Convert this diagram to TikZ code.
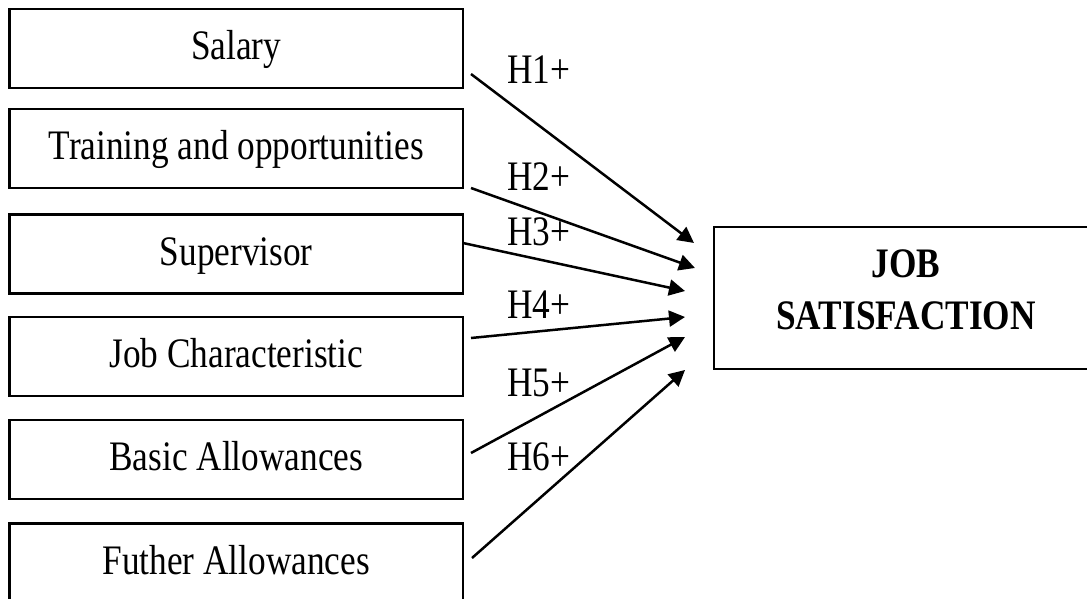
\documentclass[tikz,border=0pt]{standalone}
\usepackage{fontspec}
\setmainfont{Liberation Serif}[FakeStretch=0.84]
\usetikzlibrary{arrows.meta}
\newcommand\diagfont{\fontsize{42pt}{52pt}\selectfont}
\begin{document}
\begin{tikzpicture}[x=1pt,y=-1pt,
  font=\diagfont,
  factor/.style={draw, line width=2.8pt, outer sep=0pt, inner sep=0pt,
    minimum width=453.5pt, minimum height=79pt,
    text height=30pt, text depth=8pt, font=\diagfont},
  outcome/.style={draw, line width=2.8pt, outer sep=0pt, inner sep=0pt,
    minimum width=384pt, minimum height=142pt, align=center,
    text depth=16pt, font=\diagfont\bfseries},
  link/.style={line width=2.5pt, -{Triangle[length=16pt,width=16pt]}},
  hyp/.style={anchor=base west, inner sep=0pt, font=\diagfont}]
\useasboundingbox (0,0) rectangle (1087,598);
\clip (0,0) rectangle (1087,598);
\fill[white] (0,0) rectangle (1087,598);

% independent variables
\node[factor] (s1) at (236.25,48.5)  {Salary};
\node[factor] (s2) at (236.25,148.5) {Training and opportunities};
\node[factor] (s3) at (236.25,254)   {Supervisor};
\node[factor] (s4) at (236.25,356.5) {Job Characteristic};
\node[factor] (s5) at (236.25,459.5) {Basic Allowances};
\node[factor] (s6) at (236.25,563)   {Futher Allowances};

% dependent variable
\node[outcome] (js) at (906,298) {JOB\\SATISFACTION};

% hypothesised paths
\draw[link] ([shift={(8,25.5)}]s1.east)  -- ([shift={(-20,-55)}]js.west);
\draw[link] ([shift={(8,39.5)}]s2.east)  -- ([shift={(-19,-30)}]js.west);
\draw[link] ([shift={(0,-11)}]s3.east)   -- ([shift={(-29,-7)}]js.west);
\draw[link] ([shift={(8,-18.5)}]s4.east) -- ([shift={(-29,19)}]js.west);
\draw[link] ([shift={(8,-6.5)}]s5.east)  -- ([shift={(-29,39)}]js.west);
\draw[link] ([shift={(9,-5)}]s6.east)    -- ([shift={(-29,72)}]js.west);

% hypothesis labels
\node[hyp] (h1) at (507,83)  {H1+};
\node[hyp] (h2) at (507,190) {H2+};
\node[hyp] (h3) at (507,245) {H3+};
\node[hyp] (h4) at (507,318) {H4+};
\node[hyp] (h5) at (507,396) {H5+};
\node[hyp] (h6) at (507,470) {H6+};
\end{tikzpicture}
\end{document}
